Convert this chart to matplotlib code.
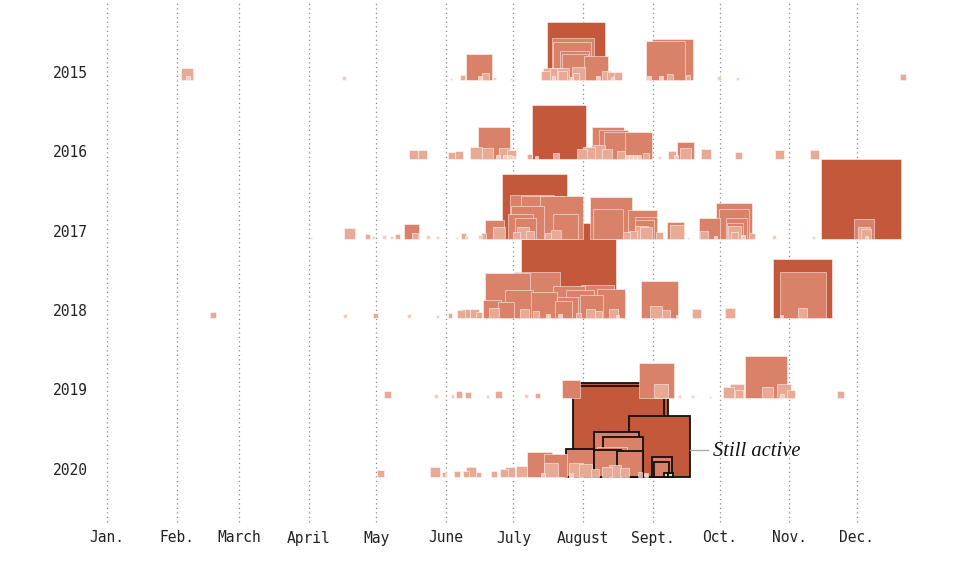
import numpy as np
import matplotlib
matplotlib.use("Agg")
import matplotlib.pyplot as plt
from matplotlib.patches import Rectangle

# ---------------- data ----------------
years = [2015, 2016, 2017, 2018, 2019, 2020]
months = ["Jan.", "Feb.", "March", "April", "May", "June", "July",
          "August", "Sept.", "Oct.", "Nov.", "Dec."]
month_start_day = [0, 31, 59, 90, 120, 151, 181, 212, 243, 273, 304, 334]

# start day of year and acres burned, per year
day_2015 = [35.6, 36.1, 105.6, 153.2, 158.3, 165.5, 166.1, 168.6, 172.4, 179.9,
            209.1, 207.6, 207.1, 208.2, 208.4, 217.8, 195.3, 196.9, 200.0, 203.1,
            202.9, 210.0, 208.9, 222.5, 224.7, 227.6, 198.9, 206.9, 218.9, 225.1,
            248.8, 251.9, 241.6, 246.8, 250.8, 258.8, 272.6, 281.0, 354.5]
acres_2015 = [6500, 700, 700, 180, 1100, 30700, 900, 2200, 400, 180,
              153000, 80200, 65700, 38200, 30700, 26200, 3700, 6500, 6500, 6500,
              3700, 7700, 2200, 3700, 2900, 2900, 700, 400, 700, 400,
              69200, 76400, 700, 700, 1600, 1100, 700, 400, 1600]

day_2016 = [136.5, 140.5, 153.4, 156.8, 172.4, 164.4, 169.5, 177.0, 180.2, 174.2,
            177.3, 179.5, 181.3, 188.2, 191.3, 201.3, 200.0, 211.6, 214.7, 218.5,
            222.7, 223.1, 225.6, 227.4, 236.7, 228.9, 240.1, 231.6, 233.4, 235.2,
            237.0, 246.1, 251.7, 253.4, 257.7, 257.7, 266.8, 281.5, 299.5, 315.1]
acres_2016 = [3700, 3700, 2200, 2900, 46600, 6500, 5500, 5500, 3700, 700,
              700, 700, 400, 1100, 400, 132600, 1600, 4500, 6500, 8900,
              4500, 46600, 38200, 33100, 33100, 2900, 1600, 700, 700, 700,
              700, 400, 2900, 700, 13100, 5500, 4500, 2200, 3700, 3700]

day_2017 = [90.9, 107.8, 116.2, 118.9, 123.4, 126.9, 129.6, 135.6, 137.2, 142.8,
            147.4, 155.9, 158.8, 160.3, 166.1, 167.7, 172.6, 174.4, 190.6, 189.5,
            194.2, 202.3, 187.3, 184.2, 186.4, 204.2, 185.5, 182.2, 188.4, 196.4,
            200.0, 224.3, 223.1, 238.7, 239.9, 239.4, 238.1, 240.1, 231.4, 234.3,
            246.3, 253.2, 254.1, 258.8, 268.4, 266.1, 271.2, 279.3, 279.5, 280.2,
            279.7, 279.7, 279.7, 283.3, 287.5, 297.1, 314.9, 335.8, 337.2, 337.2,
            338.1, 338.1]
acres_2017 = [180, 5500, 1100, 400, 700, 400, 1100, 10300, 1600, 700,
              400, 180, 1600, 400, 700, 1600, 16400, 6500, 192100, 88000,
              84100, 84100, 49500, 28400, 20000, 28400, 6500, 2200, 2900, 1600,
              3700, 80200, 40900, 38200, 22000, 16400, 7700, 6500, 2200, 2900,
              2200, 13100, 8900, 180, 20000, 2900, 400, 58900, 40900, 20000,
              11600, 7700, 2200, 700, 1600, 700, 400, 291000, 18200, 6500,
              4500, 400]

day_2018 = [47.2, 106.0, 119.4, 134.5, 147.4, 152.8, 157.7, 159.7, 163.7, 165.7,
            205.6, 178.6, 191.7, 183.5, 194.6, 205.8, 210.7, 218.7, 224.5, 205.3,
            215.8, 203.5, 171.5, 177.7, 172.4, 186.0, 191.1, 210.2, 215.4, 219.1,
            225.4, 227.2, 196.4, 201.8, 245.9, 244.7, 248.8, 253.9, 262.8, 277.7,
            309.8, 309.9, 309.8, 300.4]
acres_2018 = [1600, 700, 1100, 700, 400, 1100, 2900, 3700, 3700, 1600,
              410400, 92100, 96200, 35600, 30700, 46600, 35600, 49500, 38200, 20000,
              24100, 13100, 14700, 11600, 4500, 3700, 2200, 1100, 3700, 2200,
              3700, 400, 700, 700, 62200, 6500, 2900, 400, 3700, 4500,
              158300, 96200, 4500, 400]

day_2019 = [124.9, 146.5, 153.9, 156.8, 160.8, 169.7, 174.6, 186.6, 191.7, 206.7,
            244.7, 246.7, 254.8, 260.6, 268.6, 276.8, 280.6, 281.3, 293.5, 294.4,
            301.5, 304.7, 300.6, 326.7]
acres_2019 = [2200, 700, 700, 2200, 1600, 400, 2200, 700, 1100, 14700,
              55700, 8900, 400, 400, 180, 5500, 8900, 2900, 80200, 5500,
              8900, 2900, 700, 2200]

day_2020 = [121.8, 146.1, 150.1, 151.0, 155.9, 159.9, 162.1, 165.5, 172.4, 176.8,
            179.5, 184.8, 192.6, 199.8, 197.8, 194.4, 206.7, 224.9, 208.7, 213.3,
            222.7, 226.3, 230.7, 237.4, 217.4, 240.1]
acres_2020 = [2200, 4500, 1100, 400, 1600, 1600, 4500, 1100, 1600, 2900,
              4500, 5500, 28400, 24100, 8900, 700, 700, 40900, 8900, 7700,
              4500, 6500, 3700, 1100, 2900, 700]

# fires of 2020 that were still burning
active_day_2020 = [228.9, 227.8, 245.9, 226.9, 229.8, 210.7, 223.1, 232.9,
                   247.0, 247.0, 249.0, 251.1]
active_acres_2020 = [401800, 376500, 169200, 92100, 72800, 35600, 33100, 30700,
                     18200, 10300, 900, 900]

all_days = [day_2015, day_2016, day_2017, day_2018, day_2019, day_2020]
all_acres = [acres_2015, acres_2016, acres_2017, acres_2018, acres_2019, acres_2020]

# ---------------- styling ----------------
PX_PER_DAY = 2.245
ROW_GAP = 35.37            # in day units (square aspect)
SIDE_PER_SQRT_ACRE = 0.06606

COL_DARK = "#c4583a"
COL_MED = "#d98269"
COL_LIGHT = "#e9aa95"
COL_VLIGHT = "#f4cdbf"


def fill_color(a):
    if a >= 100000:
        return COL_DARK
    if a >= 10000:
        return COL_MED
    if a >= 1000:
        return COL_LIGHT
    return COL_VLIGHT


plt.rcParams['font.family'] = ['DejaVu Sans Mono', 'DejaVu Sans']

fig = plt.figure(figsize=(9.7, 5.65), dpi=100)
ax = fig.add_axes([0, 0, 1, 1])
ax.set_xlim(-107 / PX_PER_DAY, (970 - 107) / PX_PER_DAY)
ax.set_ylim((80 - 565) / PX_PER_DAY, 80 / PX_PER_DAY)
ax.axis("off")

# month gridlines and labels
grid_bottom = (80 - 522) / PX_PER_DAY
for d, m in zip(month_start_day, months):
    ax.plot([d, d], [grid_bottom, 80 / PX_PER_DAY], color="#8c8c8c",
            lw=0.9, linestyle=(0, (1, 2.6)), zorder=0)
    ax.text(d, (80 - 538) / PX_PER_DAY, m, ha="center", va="center",
            fontsize=10.5, color="#222222")

# collect squares
squares = []
for i, (days, acres) in enumerate(zip(all_days, all_acres)):
    base = -i * ROW_GAP
    for d, a in zip(days, acres):
        squares.append((a, d, base, False))
base_2020 = -5 * ROW_GAP
for d, a in zip(active_day_2020, active_acres_2020):
    squares.append((a, d, base_2020, True))

squares.sort(key=lambda t: -t[0])
for k, (a, d, base, active) in enumerate(squares):
    s = SIDE_PER_SQRT_ACRE * np.sqrt(a)
    if active:
        ec, lw = "#111111", 1.3
    else:
        ec, lw = (1, 1, 1, 0.5), 0.7
    ax.add_patch(Rectangle((d - s / 2, base), s, s, facecolor=fill_color(a),
                           edgecolor=ec, linewidth=lw, zorder=2 + k * 0.001))

# year labels
for i, y in enumerate(years):
    ax.text(-8.5, -i * ROW_GAP + 3.0, str(y), ha="right", va="center",
            fontsize=10.5, color="#222222")

# "Still active" annotation
ci = int(np.argmax([d + SIDE_PER_SQRT_ACRE * np.sqrt(a) / 2
                    for d, a in zip(active_day_2020, active_acres_2020)]))
x0 = active_day_2020[ci] + SIDE_PER_SQRT_ACRE * np.sqrt(active_acres_2020[ci]) / 2
ya = base_2020 + 12.0
ax.plot([x0, x0 + 8.2], [ya, ya], color="#aaaaaa", lw=1, zorder=5)
ax.text(x0 + 10.3, ya - 0.6, "Still active", ha="left", va="center",
        fontsize=14.8, fontstyle="italic", family=["Liberation Serif", "DejaVu Serif"],
        color="#111111", zorder=5)

fig.savefig("out.png", dpi=100, facecolor="white")
